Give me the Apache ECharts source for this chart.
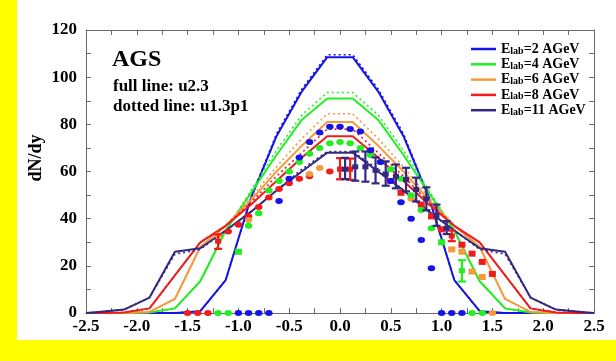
<!DOCTYPE html>
<html>
<head>
<meta charset="utf-8">
<script src="https://cdn.jsdelivr.net/npm/echarts@6/dist/echarts.min.js"></script>
<style>
html,body{margin:0;padding:0;background:#fff;}
#chart{width:616px;height:361px;}
</style>
</head>
<body>
<div id="chart"></div>
<script>
// Rapidity nodes of the model curves (bin centres, plus the plot edges)
const rapidityNodes = [-2.5,-2.375,-2.125,-1.875,-1.625,-1.375,-1.125,-0.875,-0.625,-0.375,-0.125,
                       0.125,0.375,0.625,0.875,1.125,1.375,1.625,1.875,2.125,2.375,2.5];

// Full lines (u2.3), left half down to y=-0.125; the right half mirrors it
const fullE2  = [0,0,0,0,0,0.8,14,49,75,94,108.5];
const fullE4  = [0,0,0,0.3,2,13.5,35,51,67,82,91];
const fullE6  = [0,0,0,0.5,6,28,37,48,60,71,81];
const fullE8  = [0,0,0.3,2,16,30,37,46,56,66,75];
const fullE11 = [0,0.5,1.5,6.6,26,27.5,35,43,52,60,68];

// Dotted lines (u1.3p1)
const dotE2  = [0,0,0,0,0,0.8,14,49,76,95,109.5];
const dotE4  = [0,0,0,0.3,2,13.5,35,52,69,84,93.5];
const dotE6  = [0,0,0,0.5,6,28,37,49,62,74,84.5];
const dotE8  = [0,0,0.3,2,16,30,37,47,58,68,78];
const dotE11 = [0,0.5,1.5,6.6,25,27,35,43,52,61,68.5];

// Measured points: [rapidity, dN/dy]
const circlesE2 = [[-1.0,0],[-0.9,0],[-0.8,0],[-0.7,0],[-0.6,47.5],[-0.5,57],[-0.4,66],[-0.3,72.5],
  [-0.2,76.5],[-0.1,79],[0.0,79],[0.1,78],[0.2,77],[0.3,69],[0.4,64],[0.5,56],[0.6,47],[0.7,40],
  [0.8,31],[0.9,19],[1.0,0],[1.1,0],[1.2,0]];
const circlesE4 = [[-1.2,0],[-1.1,0],[-0.9,37],[-0.8,42.3],[-0.7,52],[-0.6,56],[-0.5,60],[-0.4,64],
  [-0.3,67.5],[-0.2,70],[-0.1,72],[0.0,72.5],[0.1,72],[0.2,70],[0.3,67],[0.4,64],[0.5,61],[0.6,57],
  [0.7,50],[0.8,43.7],[0.9,36],[1.3,0],[1.4,0]];
const squaresE4 = [[-1.0,26],[1.0,30]];
const barsE4 = [[1.2,13.4,22.4,18]];
const circlesE6 = [[-1.2,33],[-0.9,39.5],[-0.3,59],[-0.2,61.5],[0.7,48.5],[1.5,0]];
const squaresE6 = [[1.1,27],[1.2,26],[1.3,17.6],[1.4,15.3]];
const circlesE8 = [[-1.5,0],[-1.4,0],[-1.3,0],[-1.1,34.6],[-1.0,37.5],[-0.9,41],[-0.8,45],[-0.7,49],
  [-0.6,52.6],[-0.5,55],[-0.4,57],[-0.3,58],[-0.1,60]];
const squaresE8 = [[0.5,56],[0.6,51],[0.8,46],[0.9,41],[1.0,35.5],[1.2,29],[1.3,25.2],[1.4,21.7],[1.5,16.6]];
const barsE8 = [[-1.2,27.2,33.4,30.5],[0.0,56.7,65.7,61],[0.1,56.5,65.5,61],[1.1,30.5,35,32.7]];
const barsE11 = [[0.05,56.8,65.8,61],[0.15,56.1,68.5,62],[0.25,55.7,68.5,62],[0.35,55,66,60.5],
  [0.45,54,64.3,59],[0.55,52.9,63,58],[0.65,51.6,61.6,56.6],[0.75,47.3,57.4,52.4],
  [0.85,43.6,53.3,48.4],[0.95,37,46,41.5],[1.05,33.5,39,36]];

const energies = ['2','4','6','8','11'];
const colours = ['#1414e6','#22ee22','#f59a3c','#ee1c1c','#35287f'];
const fullSets = [fullE2, fullE4, fullE6, fullE8, fullE11];
const dotSets = [dotE2, dotE4, dotE6, dotE8, dotE11];

function mirrored(half){
  const full = half.concat(half.slice().reverse());
  return rapidityNodes.map((y,i)=>[y, full[i]]);
}

const series = [];
energies.forEach((e,i)=>{
  series.push({
    name: 'E' + e, type: 'line', data: mirrored(fullSets[i]), symbol: 'none',
    lineStyle: {color: colours[i], width: 2}, itemStyle: {color: colours[i]}, z: 3
  });
  series.push({
    name: 'D' + e, type: 'line', data: mirrored(dotSets[i]), symbol: 'none',
    lineStyle: {color: colours[i], width: 1.6, type: [2,3]}, z: 3
  });
});

function scatter(data, colour, shape){
  return {type:'scatter', data, symbol: shape, symbolSize: shape==='rect' ? [7,6] : [7.5,6],
    itemStyle:{color: colour, opacity: 1}, z: 4, silent: true};
}
series.push(scatter(circlesE8, colours[3], 'circle'));
series.push(scatter(squaresE8, colours[3], 'rect'));
series.push(scatter(circlesE6, colours[2], 'circle'));
series.push(scatter(squaresE6, colours[2], 'rect'));
series.push(scatter(circlesE4, colours[1], 'circle'));
series.push(scatter(squaresE4, colours[1], 'rect'));
series.push(scatter(circlesE2, colours[0], 'circle'));

function errorBars(data, colour){
  return {
    type: 'custom', z: 5, silent: true,
    data: data,
    renderItem: function(params, api){
      const x = api.value(0);
      const lo = api.coord([x, api.value(1)]);
      const hi = api.coord([x, api.value(2)]);
      const mid = api.coord([x, api.value(3)]);
      const cap = 4;
      const st = {stroke: colour, lineWidth: 2.2};
      return {type:'group', children:[
        {type:'line', shape:{x1:lo[0], y1:lo[1], x2:hi[0], y2:hi[1]}, style: st},
        {type:'line', shape:{x1:lo[0]-cap, y1:lo[1], x2:lo[0]+cap, y2:lo[1]}, style: st},
        {type:'line', shape:{x1:hi[0]-cap, y1:hi[1], x2:hi[0]+cap, y2:hi[1]}, style: st},
        {type:'rect', shape:{x: mid[0]-3, y: mid[1]-2.5, width: 6, height: 5}, style:{fill: colour}}
      ]};
    }
  };
}
series.push(errorBars(barsE4, colours[1]));
series.push(errorBars(barsE8, colours[3]));
series.push(errorBars(barsE11, colours[4]));

const serif = 'Liberation Serif';
const axisLineStyle = {color: '#6a6a6a', width: 1};

const chart = echarts.init(document.getElementById('chart'), null, {renderer: 'canvas'});
chart.setOption({
  animation: false,
  backgroundColor: '#ffffff',
  grid: {left: 86, right: 22, top: 30, bottom: 40},
  legend: {
    data: energies.map(e => 'E' + e),
    orient: 'vertical', left: 466, top: 37,
    icon: 'rect', itemWidth: 25, itemHeight: 2.5, itemGap: 1.3, itemStyle: {borderWidth: 0},
    formatter: name => '{e|E}{s|lab}{e|=' + name.slice(1) + ' AGeV}',
    textStyle: {
      fontFamily: serif, fontWeight: 'bold', color: '#000',
      rich: {
        e: {fontFamily: serif, fontWeight: 'bold', fontSize: 14, lineHeight: 14, color: '#000'},
        s: {fontFamily: serif, fontWeight: 'bold', fontSize: 10, lineHeight: 6, verticalAlign: 'bottom', color: '#000'}
      }
    }
  },
  xAxis: [{
    type: 'value', min: -2.5, max: 2.5, interval: 0.5,
    name: 'y', nameLocation: 'middle', nameGap: 16,
    nameTextStyle: {fontFamily: serif, fontWeight: 'bold', fontSize: 16, color: '#000'},
    axisLine: {onZero: false, lineStyle: axisLineStyle},
    axisTick: {inside: true, length: 5, lineStyle: axisLineStyle},
    minorTick: {show: true, splitNumber: 2, length: 5, lineStyle: axisLineStyle},
    splitLine: {show: false},
    axisLabel: {margin: 5, fontFamily: serif, fontWeight: 'bold', fontSize: 17, color: '#000',
      formatter: v => v.toFixed(1)}
  },{
    type: 'value', min: -2.5, max: 2.5, interval: 0.5, position: 'top',
    axisLine: {onZero: false, lineStyle: axisLineStyle},
    axisTick: {inside: true, length: 5, lineStyle: axisLineStyle},
    minorTick: {show: true, splitNumber: 2, length: 5, lineStyle: axisLineStyle},
    splitLine: {show: false}, axisLabel: {show: false}
  }],
  yAxis: [{
    type: 'value', min: 0, max: 120, interval: 20,
    axisLine: {show: true, onZero: false, lineStyle: axisLineStyle},
    axisTick: {inside: true, length: 5, lineStyle: axisLineStyle},
    minorTick: {show: true, splitNumber: 2, length: 5, lineStyle: axisLineStyle},
    splitLine: {show: false},
    axisLabel: {margin: 9, fontFamily: serif, fontWeight: 'bold', fontSize: 17, color: '#000'}
  },{
    type: 'value', min: 0, max: 120, interval: 20, position: 'right',
    axisLine: {show: true, onZero: false, lineStyle: axisLineStyle},
    axisTick: {inside: true, length: 5, lineStyle: axisLineStyle},
    minorTick: {show: true, splitNumber: 2, length: 5, lineStyle: axisLineStyle},
    splitLine: {show: false}, axisLabel: {show: false}
  }],
  graphic: [
    {type:'text', left: 112, top: 48, style:{text:'AGS', font:'bold 24px "Liberation Serif"', fill:'#000'}},
    {type:'text', left: 113, top: 78, style:{text:'full line: u2.3', font:'bold 17px "Liberation Serif"', fill:'#000'}},
    {type:'text', left: 113, top: 98, style:{text:'dotted line: u1.3p1', font:'bold 17px "Liberation Serif"', fill:'#000'}},
    {type:'text', x: 36, y: 158, rotation: Math.PI/2, style:{text:'dN/dy', font:'bold 18px "Liberation Serif"', fill:'#000', align:'center', verticalAlign:'middle'}},
    {type:'rect', left: 0, top: 0, z: 100, shape:{width: 17, height: 361}, style:{fill:'#ffff00'}},
    {type:'rect', left: 0, top: 340, z: 100, shape:{width: 616, height: 21}, style:{fill:'#ffff00'}}
  ],
  series: series
});
</script>
</body>
</html>
